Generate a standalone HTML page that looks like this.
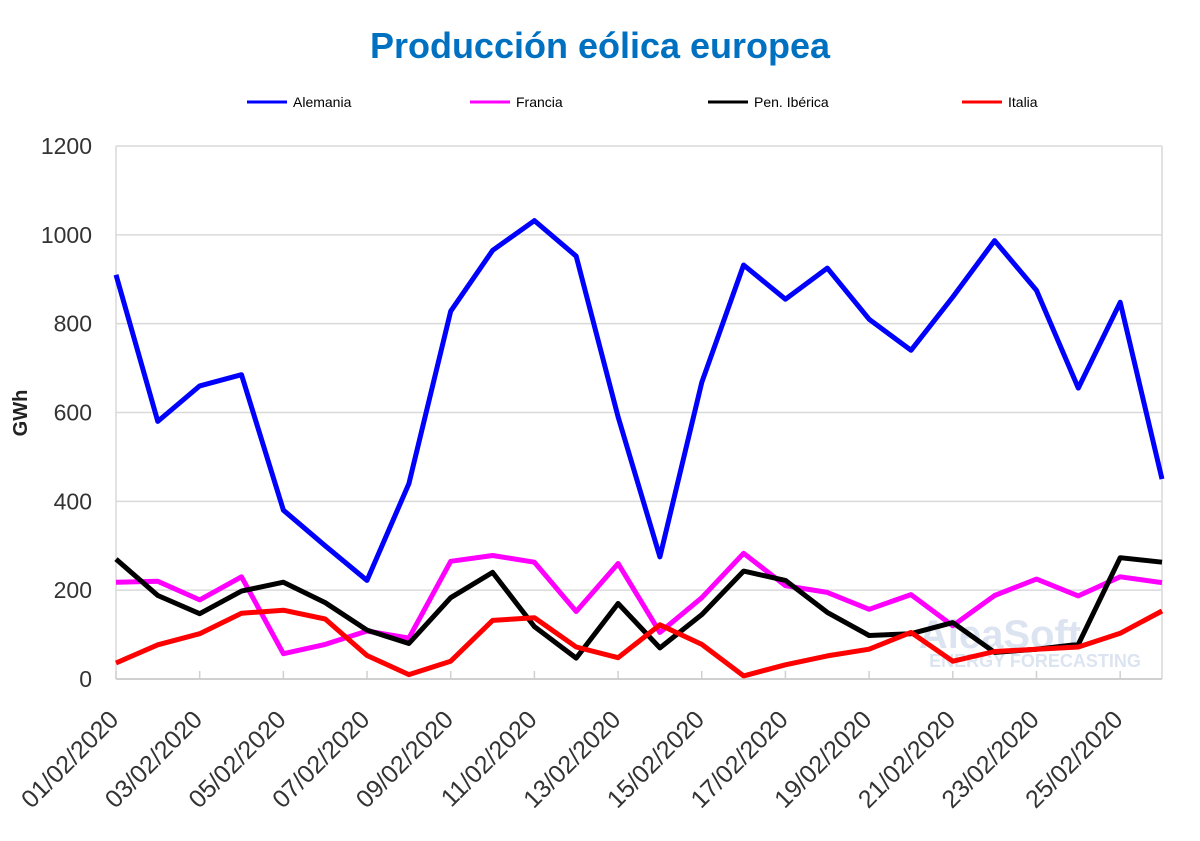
<!DOCTYPE html>
<html><head><meta charset="utf-8"><style>
body{margin:0;background:#fff;width:1200px;height:836px;overflow:hidden;font-family:"Liberation Sans",sans-serif}
</style></head><body>
<svg id="s" width="1200" height="836" xmlns="http://www.w3.org/2000/svg">
<text x="600" y="58" text-anchor="middle" font-size="36" font-weight="bold" fill="#0070C0" font-family="Liberation Sans,sans-serif">Producción eólica europea</text>
<g font-size="14" fill="#000" font-family="Liberation Sans,sans-serif">
<line x1="247" y1="102" x2="287" y2="102" stroke="#0000ff" stroke-width="3"/><text x="293" y="107">Alemania</text>
<line x1="470" y1="102" x2="510" y2="102" stroke="#ff00ff" stroke-width="3"/><text x="516" y="107">Francia</text>
<line x1="708" y1="102" x2="748" y2="102" stroke="#000" stroke-width="3"/><text x="754" y="107">Pen. Ibérica</text>
<line x1="962" y1="102" x2="1002" y2="102" stroke="#ff0000" stroke-width="3"/><text x="1008" y="107">Italia</text>
</g>
<text transform="translate(27,413) rotate(-90)" text-anchor="middle" font-size="20" font-weight="bold" fill="#222">GWh</text>
<text x="1000" y="648" text-anchor="middle" font-size="40" font-weight="bold" fill="#c5d3e8" opacity="0.6">AleaSoft</text>
<text x="1035" y="667" text-anchor="middle" font-size="18" font-weight="bold" fill="#c5d3e8" opacity="0.6">ENERGY FORECASTING</text>
</svg>
<script>
const s=document.getElementById('s'),NS='http://www.w3.org/2000/svg';
function el(t,a,txt){const e=document.createElementNS(NS,t);for(const k in a)e.setAttribute(k,a[k]);if(txt!==undefined)e.textContent=txt;s.appendChild(e);return e;}
const X0=116,X1=1162,Y0=679,ky=533/1200,dx=(X1-X0)/25;
for(let v=0;v<=1200;v+=200){const y=Y0-v*ky;
 if(v>0)el('line',{x1:X0,x2:X1,y1:y,y2:y,stroke:'#d9d9d9','stroke-width':1.5});
 el('text',{x:92,y:y+8,'text-anchor':'end','font-size':23,fill:'#333'},v);}
el('line',{x1:X1,x2:X1,y1:146,y2:Y0,stroke:'#d9d9d9','stroke-width':1.5});
el('line',{x1:X0,x2:X0,y1:146,y2:Y0,stroke:'#d9d9d9','stroke-width':1.5});
el('line',{x1:X0,x2:X1,y1:Y0,y2:Y0,stroke:'#d0d0d0','stroke-width':2});
for(let i=0;i<26;i+=2){const x=X0+i*dx;
 el('line',{x1:x,x2:x,y1:Y0-8,y2:Y0,stroke:'#d0d0d0','stroke-width':1.5});
 const d=String(i+1).padStart(2,'0')+'/02/2020';
 el('text',{transform:`translate(${x+4},${Y0+42}) rotate(-45)`,'text-anchor':'end','font-size':25,fill:'#333'},d);}
const D={
'#0000ff':[910,580,660,685,380,300,222,440,828,965,1032,952,590,275,668,932,855,925,810,740,860,987,875,655,848,450],
'#ff00ff':[218,220,178,230,57,78,108,92,265,278,263,152,260,105,183,283,210,195,157,190,120,188,225,187,230,217],
'#000000':[270,188,147,198,218,172,110,80,183,240,118,47,170,70,145,243,222,150,98,102,127,60,67,78,273,263],
'#ff0000':[36,77,102,148,155,135,53,10,40,132,138,72,48,122,78,7,32,52,67,105,40,62,67,72,103,153]};
for(const c in D){el('polyline',{points:D[c].map((v,i)=>(X0+i*dx).toFixed(1)+','+(Y0-v*ky).toFixed(1)).join(' '),fill:'none',stroke:c,'stroke-width':5,'stroke-linejoin':'round'});}
</script>
</body></html>
